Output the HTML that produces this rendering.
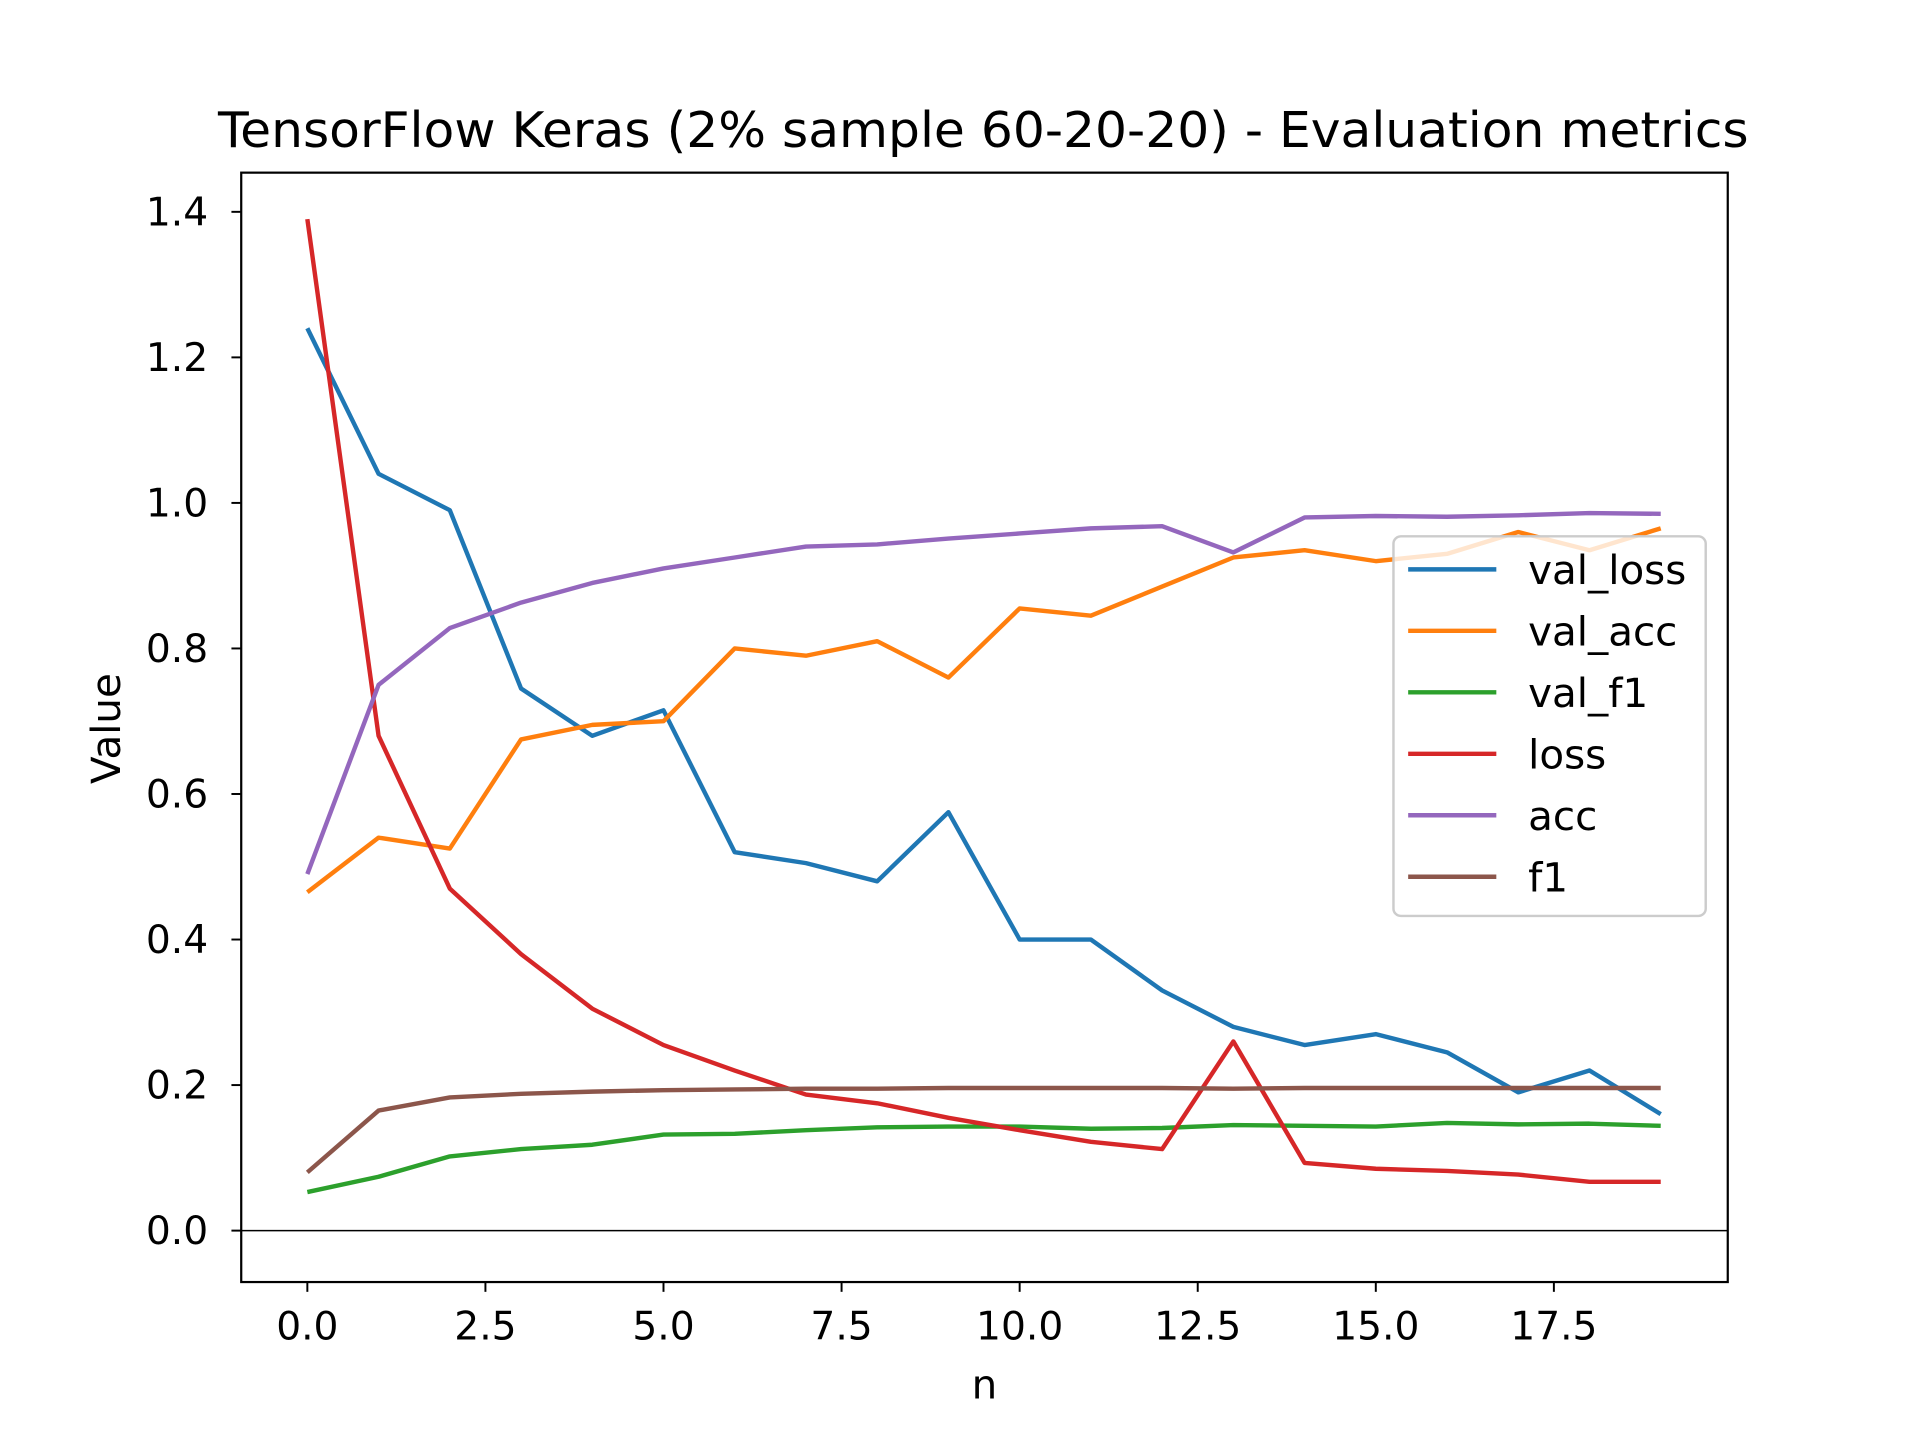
<!DOCTYPE html>
<html><head><meta charset="utf-8"><style>
html,body{margin:0;padding:0;background:#fff;}
svg{display:block;font-family:"DejaVu Sans","Liberation Sans",sans-serif;}
</style></head><body>
<svg id="chart" width="1920" height="1440" viewBox="0 0 1568 1176" xmlns="http://www.w3.org/2000/svg">
<rect width="1568" height="1176" fill="#fff"/>
<text x="803" y="120" text-anchor="middle" font-size="40" textLength="1250" lengthAdjust="spacingAndGlyphs">TensorFlow Keras (2% sample 60-20-20) - Evaluation metrics</text>
<g id="plot"></g>
<text x="804" y="1142" text-anchor="middle" font-size="33">n</text>
<text x="98" y="595" text-anchor="middle" font-size="33" transform="rotate(-90 98 595)">Value</text>
</svg>
<script>
const xs = [0,1,2,3,4,5,6,7,8,9,10,11,12,13,14,15,16,17,18,19];
const valLoss = [1.24,1.04,0.99,0.745,0.68,0.715,0.52,0.505,0.48,0.575,0.40,0.40,0.33,0.28,0.255,0.27,0.245,0.19,0.22,0.16];
const valAcc = [0.465,0.54,0.525,0.675,0.695,0.70,0.80,0.79,0.81,0.76,0.855,0.845,0.885,0.925,0.935,0.92,0.93,0.96,0.935,0.965];
const valF1 = [0.053,0.074,0.102,0.112,0.118,0.132,0.133,0.138,0.142,0.143,0.143,0.140,0.141,0.145,0.144,0.143,0.148,0.146,0.147,0.144];
const loss = [1.39,0.68,0.47,0.38,0.305,0.255,0.22,0.187,0.175,0.155,0.138,0.122,0.112,0.26,0.093,0.085,0.082,0.077,0.067,0.067];
const acc = [0.49,0.75,0.828,0.863,0.89,0.91,0.925,0.94,0.943,0.951,0.958,0.965,0.968,0.932,0.98,0.982,0.981,0.983,0.986,0.985];
const f1 = [0.08,0.165,0.183,0.188,0.191,0.193,0.194,0.195,0.195,0.196,0.196,0.196,0.196,0.195,0.196,0.196,0.196,0.196,0.196,0.196];
const xTicks = [0,2.5,5,7.5,10,12.5,15,17.5];
const xTickLabels = ["0.0","2.5","5.0","7.5","10.0","12.5","15.0","17.5"];
const yTicks = [0,0.2,0.4,0.6,0.8,1.0,1.2,1.4];
const yTickLabels = ["0.0","0.2","0.4","0.6","0.8","1.0","1.2","1.4"];
const seriesNames = ["val_loss","val_acc","val_f1","loss","acc","f1"];

const NS="http://www.w3.org/2000/svg";
const L=197,R=1411,T=141,B=1047;
const X=v=>251+(v-0)*(1269-251)/17.5;
const Y=v=>1005-v*(1005-173)/1.4;
const g=document.getElementById('plot');
function mk(tag,attrs,parent){const e=document.createElementNS(NS,tag);for(const k in attrs)e.setAttribute(k,attrs[k]);(parent||g).appendChild(e);return e;}

let zl=mk('line',{x1:L,x2:R,y1:Y(0),y2:Y(0),stroke:'#000','stroke-width':1.2});



const colors=["#1f77b4","#ff7f0e","#2ca02c","#d62728","#9467bd","#8c564b"];
const data=[valLoss,valAcc,valF1,loss,acc,f1];
data.forEach((arr,i)=>{
  const p=mk('polyline',{points:arr.map((v,j)=>X(xs[j])+','+Y(v)).join(' '),fill:'none',stroke:colors[i],'stroke-width':3.6,'stroke-linejoin':'round'});
  
  
});

let fr=mk('rect',{x:L,y:T,width:R-L,height:B-T,fill:'none',stroke:'#000','stroke-width':1.8});



xTicks.forEach((v,i)=>{
  let t=mk('line',{x1:X(v),x2:X(v),y1:B,y2:B+8,stroke:'#000','stroke-width':1.6});
  
  
  let tx=mk('text',{x:X(v),y:B+47,'text-anchor':'middle','font-size':32});
  tx.textContent=xTickLabels[i];
  
  
});
yTicks.forEach((v,i)=>{
  let t=mk('line',{x1:L-8,x2:L,y1:Y(v),y2:Y(v),stroke:'#000','stroke-width':1.6});
  
  
  let tx=mk('text',{x:L-27,y:Y(v)+11,'text-anchor':'end','font-size':32});
  tx.textContent=yTickLabels[i];
  
  
});

const lg=mk('g',{});


mk('rect',{x:1138,y:438,width:255,height:310,rx:6,fill:'rgba(255,255,255,0.8)',stroke:'#ccc','stroke-width':2},lg);
seriesNames.forEach((n,i)=>{
  const yy=465+i*50.2;
  const e=mk('g',{},lg);
  
  
  mk('line',{x1:1150,x2:1222,y1:yy,y2:yy,stroke:colors[i],'stroke-width':3.6},e);
  const t=mk('text',{x:1248,y:yy+12,'font-size':33},e);
  t.textContent=n;
});
</script>
</body></html>
